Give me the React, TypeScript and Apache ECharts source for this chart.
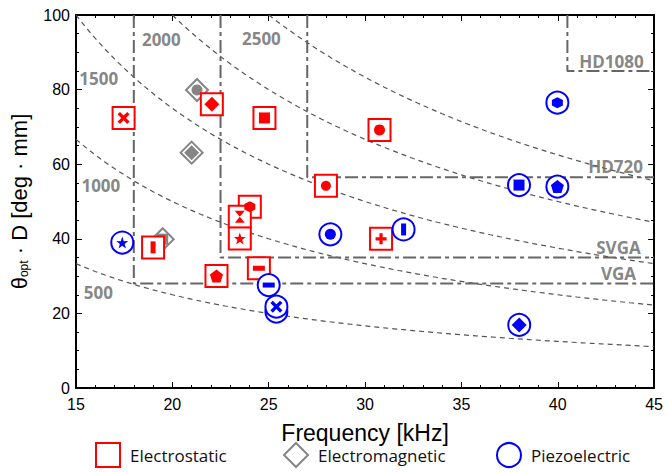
import React, { useEffect, useRef } from "react";
import * as echarts from "echarts";

// ---- data ----
const curveLevels = [500, 1000, 1500, 2000, 2500];
const curveLabels = ["500", "1000", "1500", "2000", "2500"];
const curveLabelX = [16.16, 16.29, 16.18, 19.43, 24.62];
const curveLabelY = [25.5, 54.4, 83.1, 93.3, 93.8];

const resNames = ["VGA", "SVGA", "HD720", "HD1080"];
const resFreq = [18, 22.5, 27, 40.5];
const resValue = [28, 35, 56.5, 85];
const resLabelX = [43.15, 43.15, 43.0, 42.79];
const resLabelY = [30.6, 37.8, 59.5, 87.4];

const esX = [17.47, 22.05, 24.78, 30.75, 27.97, 24.02, 23.5, 23.5, 19.0, 22.29, 24.49, 30.83];
const esY = [72.4, 76.1, 72.4, 69.2, 54.2, 48.6, 45.9, 40.1, 37.7, 30.0, 32.1, 40.0];
const esMarker = ["x", "diamond", "square", "circle", "dot", "hexagon", "hourglass", "star", "vbar", "pentagon", "hbar", "plus"];

const emX = [21.28, 21.0, 19.5];
const emY = [79.9, 63.1, 39.9];
const emMarker = ["circle", "diamond", "square"];

const pzX = [17.4, 28.2, 32.0, 25.0, 25.4, 25.4, 38.0, 39.98, 37.99, 39.98];
const pzY = [39.0, 41.2, 42.5, 27.6, 20.5, 21.8, 16.9, 76.5, 54.4, 54.0];
const pzMarker = ["star", "circle", "vbar", "hbar", "none", "x", "diamond", "hexagon", "square", "pentagon"];

const X_MIN = 15;
const X_MAX = 45;
const Y_MAX = 100;

// ---- styles ----
const SYM: Record<string, { symbol: string; size: number | number[] }> = {
  x: { symbol: "path://M2,0 L5,3 L8,0 L10,2 L7,5 L10,8 L8,10 L5,7 L2,10 L0,8 L3,5 L0,2 Z", size: 12 },
  plus: { symbol: "path://M3.5,0 H6.5 V3.5 H10 V6.5 H6.5 V10 H3.5 V6.5 H0 V3.5 H3.5 Z", size: 11 },
  star: { symbol: "path://M50,0 L61.8,35.1 L97.6,34.5 L69,56 L79.4,90.5 L50,70 L20.6,90.5 L31,56 L2.4,34.5 L38.2,35.1 Z", size: 12 },
  pentagon: { symbol: "path://M50,0 L97.6,34.5 L79.4,90.5 L20.6,90.5 L2.4,34.5 Z", size: 13 },
  hexagon: { symbol: "path://M50,0 L93.3,25 L93.3,75 L50,100 L6.7,75 L6.7,25 Z", size: 11 },
  hourglass: { symbol: "path://M0,0 L10,0 L5,6 L10,12 L0,12 L5,6 Z", size: [10, 12] },
  diamond: { symbol: "diamond", size: 15 },
  square: { symbol: "rect", size: 11 },
  circle: { symbol: "circle", size: 11 },
  dot: { symbol: "circle", size: 10 },
  vbar: { symbol: "rect", size: [5, 12] },
  hbar: { symbol: "rect", size: [12, 5] },
  none: { symbol: "none", size: 0 },
};

const RED = "#ff0000";
const BLUE = "#0000ff";
const GRAY = "#858585";
const FONT = "'Liberation Sans', Arial, sans-serif";
const LFONT = "'Open Sans', sans-serif";

function curvePoints(n: number): number[][] {
  const pts: number[][] = [];
  const start = Math.max(X_MIN, n / Y_MAX);
  for (let x = start; x <= X_MAX + 1e-9; x += 0.25) pts.push([x, n / x]);
  if (pts[pts.length - 1][0] < X_MAX) pts.push([X_MAX, n / X_MAX]);
  return pts;
}

function innerData(xs: number[], ys: number[], ms: string[]) {
  return xs.map((x, i) => ({
    value: [x, ys[i]],
    symbol: SYM[ms[i]].symbol,
    symbolSize: SYM[ms[i]].size,
  }));
}

function outerData(xs: number[], ys: number[]) {
  return xs.map((x, i) => [x, ys[i]]);
}

export default function App() {
  const ref = useRef<HTMLDivElement>(null);

  useEffect(() => {
    if (!ref.current) return;
    const chart = echarts.init(ref.current, null, { renderer: "svg" });

    const series: any[] = [];
    curveLevels.forEach((n) => {
      series.push({
        type: "line",
        data: curvePoints(n),
        showSymbol: false,
        symbol: "none",
        silent: true,
        z: 1,
        lineStyle: { color: "#555", width: 1.2, type: [5, 4] },
      });
    });
    resFreq.forEach((f, i) => {
      series.push({
        type: "line",
        data: [[f, Y_MAX], [f, resValue[i]], [X_MAX, resValue[i]]],
        showSymbol: false,
        symbol: "none",
        silent: true,
        z: 2,
        lineStyle: { color: "#666", width: 2, type: [13, 4, 4, 4] },
      });
    });
    series.push({
      type: "scatter",
      symbolSize: 0,
      silent: true,
      z: 3,
      data: [
        ...curveLabels.map((t, i) => ({ name: t, value: [curveLabelX[i], curveLabelY[i]] })),
        ...resNames.map((t, i) => ({ name: t, value: [resLabelX[i], resLabelY[i]] })),
      ],
      label: {
        show: true,
        position: "inside",
        formatter: (p: any) => p.name,
        color: "#666",
        fontWeight: "bold",
        fontSize: 17,
        fontFamily: LFONT,
      },
    });

    const groups = [
      { name: "Electromagnetic", xs: emX, ys: emY, ms: emMarker, color: GRAY, shape: "diamond", size: 22 },
      { name: "Electrostatic", xs: esX, ys: esY, ms: esMarker, color: RED, shape: "rect", size: 22 },
      { name: "Piezoelectric", xs: pzX, ys: pzY, ms: pzMarker, color: BLUE, shape: "circle", size: 22 },
    ];
    groups.forEach((g, gi) => {
      series.push({
        name: g.name,
        type: "scatter",
        symbol: g.shape,
        symbolSize: g.size,
        z: 10 + gi * 2,
        data: outerData(g.xs, g.ys),
        itemStyle: { color: "#ffffff", borderColor: g.color, borderWidth: 2, opacity: 1 },
      });
      series.push({
        type: "scatter",
        z: 11 + gi * 2,
        data: innerData(g.xs, g.ys, g.ms),
        itemStyle: { color: g.color, opacity: 1 },
      });
    });

    const axisCommon = {
      type: "value",
      axisLine: { show: true, onZero: false, lineStyle: { color: "#000", width: 2 } },
      axisTick: { show: true, inside: true, length: 6, lineStyle: { color: "#000", width: 1 } },
      minorTick: { show: true, length: 3, lineStyle: { color: "#000", width: 1 } },
      splitLine: { show: false },
      minorSplitLine: { show: false },
    };

    const legendCommon = {
      orient: "horizontal",
      top: 442,
      itemWidth: 24,
      itemHeight: 24,
      itemGap: 0,
      padding: 0,
      selectedMode: false,
      textStyle: { fontFamily: LFONT, fontSize: 17, color: "#111", padding: [0, 0, 0, 5] },
    };

    chart.setOption({
      animation: false,
      backgroundColor: "#ffffff",
      grid: { left: 74, right: 9, top: 15, bottom: 84, containLabel: false },
      legend: [
        {
          ...legendCommon,
          left: 95,
          data: [{ name: "Electrostatic", icon: "rect", itemStyle: { color: "#fff", borderColor: RED, borderWidth: 2 } }],
        },
        {
          ...legendCommon,
          left: 283,
          data: [{ name: "Electromagnetic", icon: "diamond", itemStyle: { color: "#fff", borderColor: GRAY, borderWidth: 2 } }],
        },
        {
          ...legendCommon,
          left: 496,
          data: [{ name: "Piezoelectric", icon: "circle", itemStyle: { color: "#fff", borderColor: BLUE, borderWidth: 2 } }],
        },
      ],
      xAxis: [
        {
          ...axisCommon,
          position: "bottom",
          min: X_MIN,
          max: X_MAX,
          interval: 5,
          minorTick: { ...axisCommon.minorTick, splitNumber: 5 },
          axisLabel: { color: "#000", fontSize: 16, fontFamily: FONT, margin: 8 },
          name: "Frequency [kHz]",
          nameLocation: "middle",
          nameGap: 33,
          nameTextStyle: { color: "#000", fontSize: 23, fontFamily: FONT },
        },
        {
          ...axisCommon,
          position: "top",
          min: X_MIN,
          max: X_MAX,
          interval: 5,
          minorTick: { ...axisCommon.minorTick, splitNumber: 5 },
          axisLabel: { show: false },
        },
      ],
      yAxis: [
        {
          ...axisCommon,
          position: "left",
          min: 0,
          max: Y_MAX,
          interval: 20,
          minorTick: { ...axisCommon.minorTick, splitNumber: 4 },
          axisLabel: { color: "#000", fontSize: 16, fontFamily: FONT, margin: 6 },
          name: "{t|θ}{s|opt}{t| · D [deg · mm]}",
          nameLocation: "middle",
          nameGap: 46,
          nameTextStyle: {
            rich: {
              t: { fontSize: 22, fontFamily: FONT, color: "#000" },
              s: { fontSize: 12, fontFamily: FONT, color: "#000", verticalAlign: "bottom" },
            },
          },
        },
        {
          ...axisCommon,
          position: "right",
          min: 0,
          max: Y_MAX,
          interval: 20,
          minorTick: { ...axisCommon.minorTick, splitNumber: 4 },
          axisLabel: { show: false },
        },
      ],
      series,
    });

    return () => chart.dispose();
  }, []);

  return (
    <div
      ref={ref}
      style={{ position: "fixed", left: 0, top: 0, width: 666, height: 472, overflow: "hidden" }}
    />
  );
}
